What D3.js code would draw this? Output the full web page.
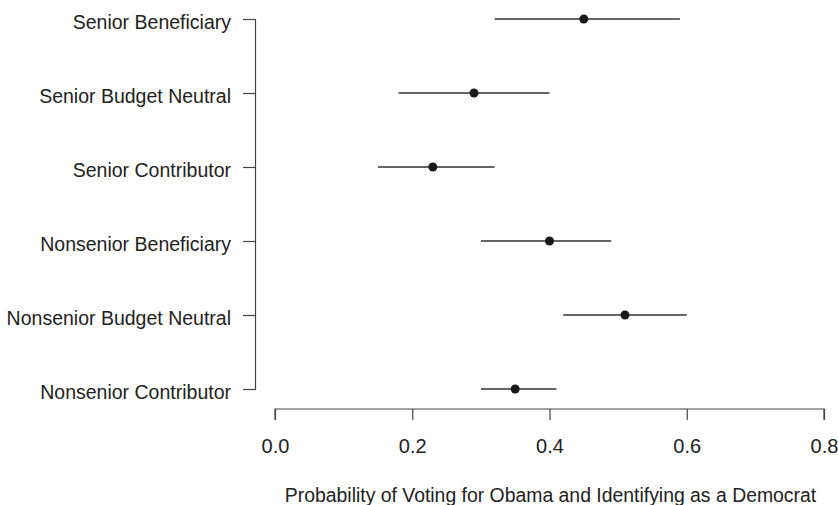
<!DOCTYPE html>
<html>
<head>
<meta charset="utf-8">
<script src="https://cdn.jsdelivr.net/npm/d3@7"></script>
<style>
  body { margin: 0; background: #fff; }
  svg { display: block; font-family: 'Liberation Sans', Arial, sans-serif; }
</style>
</head>
<body>
<div id="chart"></div>
<script>
const categories = [
  'Senior Beneficiary',
  'Senior Budget Neutral',
  'Senior Contributor',
  'Nonsenior Beneficiary',
  'Nonsenior Budget Neutral',
  'Nonsenior Contributor'
];
const estimates = [0.45, 0.29, 0.23, 0.40, 0.51, 0.35];
const lower = [0.32, 0.18, 0.15, 0.30, 0.42, 0.30];
const upper = [0.59, 0.40, 0.32, 0.49, 0.60, 0.41];
const xTicks = [0, 0.2, 0.4, 0.6, 0.8];
const xTitle = 'Probability of Voting for Obama and Identifying as a Democrat';

const width = 838, height = 505;

const svg = d3.select('#chart')
  .append('svg')
  .attr('width', width)
  .attr('height', height);

const x = d3.scaleLinear().domain([0, 0.8]).range([275, 824]);
const y = d3.scalePoint().domain(categories).range([19, 389]);

const rows = categories.map((c, i) => ({ c, est: estimates[i], lo: lower[i], hi: upper[i] }));

// y axis, detached from the x axis like base R
const yAxis = svg.append('g')
  .attr('transform', 'translate(255,0)')
  .call(d3.axisLeft(y).tickSize(12).tickPadding(12));
yAxis.select('.domain').attr('stroke', '#444').attr('stroke-width', 1.2);
yAxis.selectAll('.tick line').attr('stroke', '#444').attr('stroke-width', 1.2);
yAxis.selectAll('.tick text')
  .attr('fill', '#222')
  .attr('font-size', 19.5)
  .attr('dy', '0.5em');

// x axis
const xAxis = svg.append('g')
  .attr('transform', 'translate(0,409)')
  .call(d3.axisBottom(x).tickValues(xTicks).tickFormat(d3.format('.1f')).tickSize(11).tickPadding(19));
xAxis.select('.domain').attr('stroke', '#444').attr('stroke-width', 1.2)
  .attr('d', `M${x(0)},11V0H${x(0.8)}V11`);
xAxis.selectAll('.tick line').attr('stroke', '#444').attr('stroke-width', 1.2);
xAxis.selectAll('.tick text')
  .attr('fill', '#222')
  .attr('font-size', 20);

svg.append('text')
  .attr('x', (x(0) + x(0.8)) / 2 + 1)
  .attr('y', 502)
  .attr('text-anchor', 'middle')
  .attr('font-size', 19.4)
  .attr('fill', '#222')
  .text(xTitle);

// intervals
svg.selectAll('.ci')
  .data(rows)
  .enter()
  .append('line')
  .attr('class', 'ci')
  .attr('x1', d => x(d.lo))
  .attr('x2', d => x(d.hi))
  .attr('y1', d => y(d.c))
  .attr('y2', d => y(d.c))
  .attr('stroke', '#333')
  .attr('stroke-width', 1.4);

// point estimates
svg.selectAll('.pt')
  .data(rows)
  .enter()
  .append('circle')
  .attr('class', 'pt')
  .attr('cx', d => x(d.est))
  .attr('cy', d => y(d.c))
  .attr('r', 4.5)
  .attr('fill', '#1a1a1a');
</script>
</body>
</html>
